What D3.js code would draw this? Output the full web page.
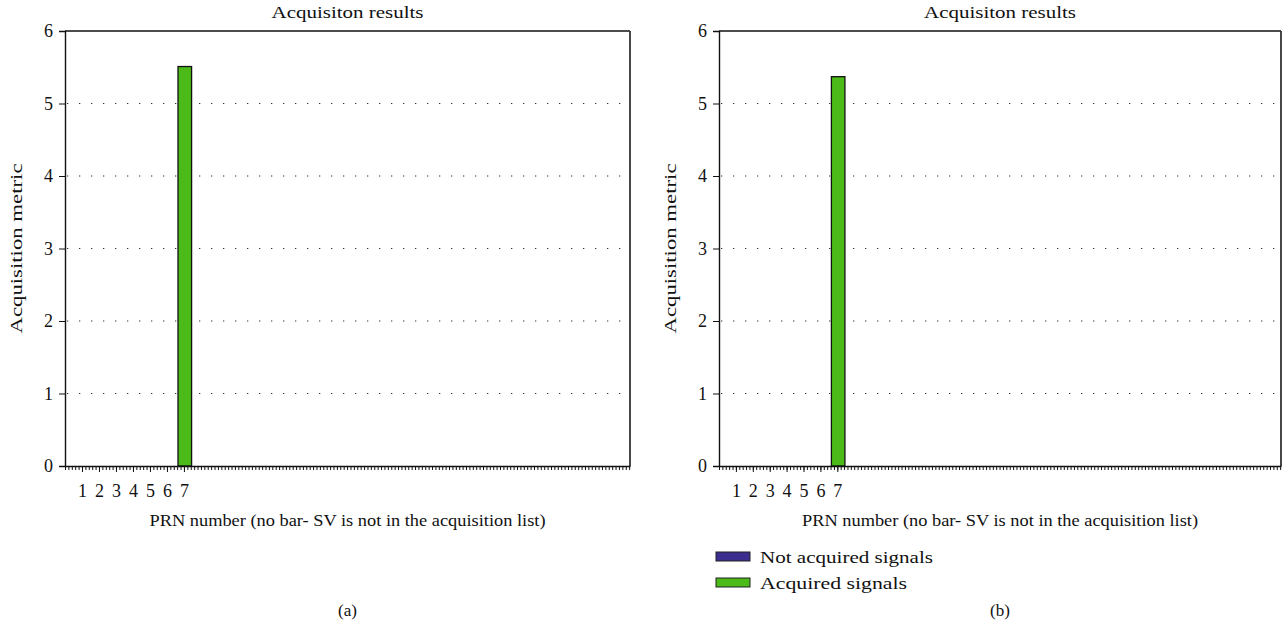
<!DOCTYPE html>
<html>
<head>
<meta charset="utf-8">
<script src="https://cdn.jsdelivr.net/npm/d3@7"></script>
<style>
  html, body { margin: 0; padding: 0; background: #fff; }
  svg text { font-family: "Liberation Serif", "DejaVu Serif", serif; fill: #111; }
</style>
</head>
<body>
<svg id="chart" width="1284" height="637"></svg>
<script>
// ---- data ----
const prnTicks = [1, 2, 3, 4, 5, 6, 7];
const yTicks = [0, 1, 2, 3, 4, 5, 6];
const acquiredPrnA = [7];
const metricA = [5.51];
const acquiredPrnB = [7];
const metricB = [5.37];
const titleText = "Acquisiton results";
const xLabelText = "PRN number (no bar- SV is not in the acquisition list)";
const yLabelText = "Acquisition metric";
const legendLabels = ["Not acquired signals", "Acquired signals"];
const legendColors = ["#3b2e8e", "#4cba18"];
const captions = ["(a)", "(b)"];

const svg = d3.select("#chart");

// stretch a text element horizontally to a given length (the reference type is set wide)
function widen(sel, len) {
  sel.attr("textLength", len).attr("lengthAdjust", "spacingAndGlyphs");
  return sel;
}

function panel(left, right, prns, values, caption, withLegend) {
  const top = 31, bottom = 466;
  const x = d3.scaleLinear().domain([0, 33.25]).range([left, right]);
  const y = d3.scaleLinear().domain([0, 6]).range([bottom, top]);
  const g = svg.append("g");

  // grid
  g.selectAll("line.grid").data(yTicks.filter(d => d > 0 && d < 6)).enter()
    .append("line")
    .attr("x1", left + 2).attr("x2", right - 2)
    .attr("y1", d => y(d)).attr("y2", d => y(d))
    .attr("stroke", "#333").attr("stroke-width", 1.1)
    .attr("stroke-dasharray", "1.3,10.7");

  // bars
  const bw = 0.8;
  g.selectAll("rect.bar").data(prns.map((p, i) => ({p, v: values[i]}))).enter()
    .append("rect")
    .attr("x", d => x(d.p - bw / 2 + 0.05))
    .attr("width", d => x(d.p + bw / 2) - x(d.p - bw / 2))
    .attr("y", d => y(d.v))
    .attr("height", d => y(0) - y(d.v))
    .attr("fill", legendColors[1]).attr("stroke", "#111").attr("stroke-width", 1.3);

  // box
  g.append("line").attr("x1", left).attr("x2", right).attr("y1", top).attr("y2", top)
    .attr("stroke", "#111").attr("stroke-width", 1.4);
  g.append("line").attr("x1", right).attr("x2", right).attr("y1", top).attr("y2", bottom)
    .attr("stroke", "#333").attr("stroke-width", 1.8);

  // y axis
  const ya = d3.axisLeft(y).tickValues(yTicks).tickSize(6).tickFormat(d3.format("d"));
  const yg = g.append("g").attr("transform", `translate(${left},0)`).call(ya);
  yg.select(".domain").attr("stroke", "#111").attr("stroke-width", 1.4);
  yg.selectAll(".tick line").attr("stroke", "#111");
  yg.selectAll(".tick text").attr("font-size", 18).attr("font-family", "Liberation Serif").attr("fill", "#111").attr("dx", "-3");

  // x axis minor ticks
  const minor = d3.range(0, 33.25, 0.2);
  const xa = d3.axisBottom(x).tickValues(minor).tickSize(4).tickSizeOuter(0).tickFormat("");
  const xg = g.append("g").attr("transform", `translate(0,${bottom})`).call(xa);
  xg.select(".domain").attr("stroke", "#111").attr("stroke-width", 1.4);
  xg.selectAll(".tick line").attr("stroke", "#111").attr("stroke-width", 1);
  // major ticks with labels
  const xb = d3.axisBottom(x).tickValues(prnTicks).tickSize(6).tickFormat(d3.format("d"));
  const xbg = g.append("g").attr("transform", `translate(0,${bottom})`).call(xb);
  xbg.select(".domain").remove();
  xbg.selectAll(".tick line").attr("stroke", "#111");
  xbg.selectAll(".tick text").attr("font-size", 18).attr("font-family", "Liberation Serif").attr("fill", "#111").attr("dy", "1.2em");

  const cx = (left + right) / 2;
  widen(g.append("text").attr("x", cx - 76).attr("y", 18)
    .attr("font-size", 17).text(titleText), 152);
  widen(g.append("text").attr("x", cx - 198).attr("y", 526)
    .attr("font-size", 17).text(xLabelText), 396);
  widen(g.append("text").attr("transform", `translate(${left - 43},${(top + bottom) / 2 + 85}) rotate(-90)`)
    .attr("font-size", 17).text(yLabelText), 170);
  g.append("text").attr("x", cx).attr("y", 616).attr("text-anchor", "middle")
    .attr("font-size", 17).text(caption);

  if (withLegend) {
    const lg = g.append("g").attr("transform", `translate(${left - 3},552)`);
    const lens = [173, 147];
    legendLabels.forEach((lab, i) => {
      lg.append("rect").attr("x", 0).attr("y", i * 26).attr("width", 34).attr("height", 9)
        .attr("fill", legendColors[i]).attr("stroke", "#222").attr("stroke-width", 1);
      widen(lg.append("text").attr("x", 44).attr("y", i * 26 + 11).attr("font-size", 17).text(lab), lens[i]);
    });
  }
}

panel(65, 630, acquiredPrnA, metricA, captions[0], false);
panel(719, 1281, acquiredPrnB, metricB, captions[1], true);
</script>
</body>
</html>
